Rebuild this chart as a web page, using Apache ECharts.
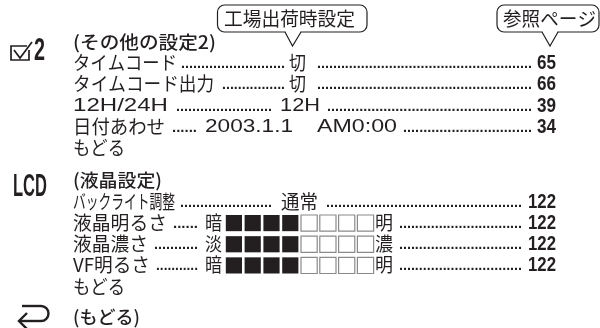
<!DOCTYPE html>
<html><head><meta charset="utf-8">
<style>html,body{margin:0;padding:0;background:#fff}#c{width:600px;height:328px}</style>
<script src="https://cdn.jsdelivr.net/npm/echarts@6/dist/echarts.min.js"></script>
</head><body><div id="c"></div>
<script>
// ---- content ----
const callouts = ['工場出荷時設定', '参照ページ'];
const sectionTitles = ['(その他の設定2)', '(液晶設定)', '(もどる)'];
const sectionIcons = ['2', 'LCD'];
const backLabel = 'もどる';
const timeLabels = ['タイムコード', 'タイムコード出力', '12H/24H', '日付あわせ'];
const timeValues = ['切', '切', '12H', '2003.1.1'];
const dateTimeExtra = 'AM0:00';
const timePages = ['65', '66', '39', '34'];
const lcdLabels = ['バックライト調整', '液晶明るさ', '液晶濃さ', 'VF明るさ'];
const lcdValue = '通常';
const levelLow = ['暗', '淡', '暗'];
const levelHigh = ['明', '濃', '明'];
const levelFilled = [4, 4, 4];
const levelTotal = 8;
const lcdPages = ['122', '122', '122', '122'];

// ---- layout ----
const INK = '#231f20';
const ctx = document.createElement('canvas').getContext('2d');
const FONTS = {
  jp: '400 19px "Noto Sans CJK JP"',
  title: '500 18px "Noto Sans CJK JP"',
  latin: '400 18px "Liberation Sans"',
  page: '700 20px "Liberation Sans"',
  icon: '700 31px "Liberation Sans"',
  dots: '700 14px "Liberation Sans"'
};
const g = [];
function seg(text, x0, x1, y, kind) {
  const font = FONTS[kind];
  ctx.font = font;
  const w = ctx.measureText(text).width;
  g.push({ type: 'text', x: x0, y: y, scaleX: (x1 - x0) / w, scaleY: 1, z: 10,
    style: { text, font, fill: INK, textAlign: 'left', textVerticalAlign: 'middle' } });
}
function dots(x0, x1, y) {
  ctx.font = FONTS.dots;
  const n = Math.max(1, Math.round((x1 - x0) / 4));
  const t = '.'.repeat(n);
  const w = ctx.measureText(t).width;
  g.push({ type: 'text', x: x0, y: y + 8, scaleX: (x1 - x0) / w, z: 10,
    style: { text: t, font: FONTS.dots, fill: INK, textAlign: 'left', textVerticalAlign: 'bottom' } });
}
function stroke(points, width) {
  g.push({ type: 'polyline', shape: { points }, z: 5,
    style: { fill: 'none', stroke: INK, lineWidth: width, lineJoin: 'miter' } });
}
function bubble(x0, x1, tipL, tipX, tipR) {
  const y0 = 5, y1 = 32, tip = 46;
  g.push({ type: 'rect', shape: { x: x0, y: y0, width: x1 - x0, height: y1 - y0, r: 7 }, z: 3,
    style: { fill: '#fff', stroke: INK, lineWidth: 1.2 } });
  g.push({ type: 'line', shape: { x1: tipL + 0.6, y1: y1, x2: tipR - 0.6, y2: y1 }, z: 4,
    style: { stroke: '#fff', lineWidth: 2 } });
  stroke([[tipL, y1], [tipX, tip], [tipR, y1]], 1.2);
}

// callouts
bubble(217.5, 367, 285, 292.5, 301);
bubble(497, 599, 542, 550, 558);
seg(callouts[0], 224, 355, 19, 'jp');
seg(callouts[1], 503, 596, 19, 'jp');

// icons
stroke([[27, 46], [11, 46], [11, 60], [29, 60], [29, 50]], 1.7);
stroke([[14, 50], [20, 58], [32, 42]], 1.7);
seg(sectionIcons[0], 34, 45, 51, 'icon');
seg(sectionIcons[1], 13, 47, 187, 'icon');
stroke([[22, 306], [41, 306]], 2.4);
g.push({ type: 'arc', shape: { cx: 41, cy: 313.5, r: 7.5, startAngle: -Math.PI / 2, endAngle: Math.PI / 2, clockwise: true }, z: 5,
  style: { fill: 'none', stroke: INK, lineWidth: 2.4 } });
stroke([[41, 321], [19, 321]], 2.4);
stroke([[27, 313], [19, 321], [27, 329]], 2.4);

// section one
seg(sectionTitles[0], 73, 216, 42, 'title');
seg(timeLabels[0], 73, 177, 63, 'jp');
dots(181, 285, 63); seg(timeValues[0], 289, 306, 63, 'jp'); dots(317, 532, 63); seg(timePages[0], 537, 556, 63, 'page');
seg(timeLabels[1], 73, 214, 84, 'jp');
dots(222, 285, 84); seg(timeValues[1], 289, 306, 84, 'jp'); dots(317, 532, 84); seg(timePages[1], 537, 556, 84, 'page');
seg(timeLabels[2], 73, 168, 106, 'latin');
dots(176, 272, 106); seg(timeValues[2], 280, 320, 106, 'latin'); dots(327, 532, 106); seg(timePages[2], 537, 556, 106, 'page');
seg(timeLabels[3], 73, 165, 127, 'jp');
dots(172, 197, 127); seg(timeValues[3], 205, 293, 127, 'latin');
seg(dateTimeExtra, 317, 397, 127, 'latin'); dots(403, 532, 127); seg(timePages[3], 537, 556, 127, 'page');
seg(backLabel, 73, 125, 148, 'jp');

// section two
seg(sectionTitles[1], 73, 162, 180, 'title');
seg(lcdLabels[0], 73, 175, 202, 'jp');
dots(180, 272, 202); seg(lcdValue, 281, 318, 202, 'jp'); dots(326, 522, 202); seg(lcdPages[0], 528, 556, 202, 'page');
const levelY = [223, 244, 265];
const labelEnd = [167, 148, 150];
levelY.forEach((y, i) => {
  seg(lcdLabels[i + 1], 73, labelEnd[i], y, 'jp');
  dots(labelEnd[i] + 6, 198, y);
  seg(levelLow[i], 205, 222, y, 'jp');
  seg(levelHigh[i], 375, 393, y, 'jp');
  dots(399, 522, y);
  seg(lcdPages[i + 1], 528, 556, y, 'page');
});
seg(backLabel, 73, 125, 287, 'jp');

// section three
seg(sectionTitles[2], 73, 140, 317, 'title');

// level cells, placed by the hidden scales
const cells = [];
levelFilled.forEach((filled, row) => {
  for (let c = 0; c < levelTotal; c++) cells.push([c, row, c < filled ? 1 : 0]);
});

const chart = echarts.init(document.getElementById('c'), null, { renderer: 'canvas' });
chart.setOption({
  animation: false,
  backgroundColor: '#fff',
  grid: { left: 224.5, width: 150.4, top: 212.5, height: 63.5 },
  xAxis: { type: 'value', min: 0, max: levelTotal, show: false },
  yAxis: { type: 'value', min: 0, max: 3, inverse: true, show: false },
  series: [{
    type: 'custom', silent: true, data: cells,
    encode: { x: 0, y: 1 },
    renderItem(params, api) {
      const p = api.coord([api.value(0), api.value(1)]);
      const s = api.size([1, 1]);
      const on = api.value(2) === 1;
      const w = s[0] - 2.6, h = s[1] - 5;
      return { type: 'rect', shape: { x: p[0] + 1.3, y: p[1] + 2.5, width: w, height: h },
        style: on ? { fill: INK } : { fill: '#fff', stroke: '#8a8a8a', lineWidth: 1.2 } };
    }
  }],
  graphic: g
});
</script></body></html>
